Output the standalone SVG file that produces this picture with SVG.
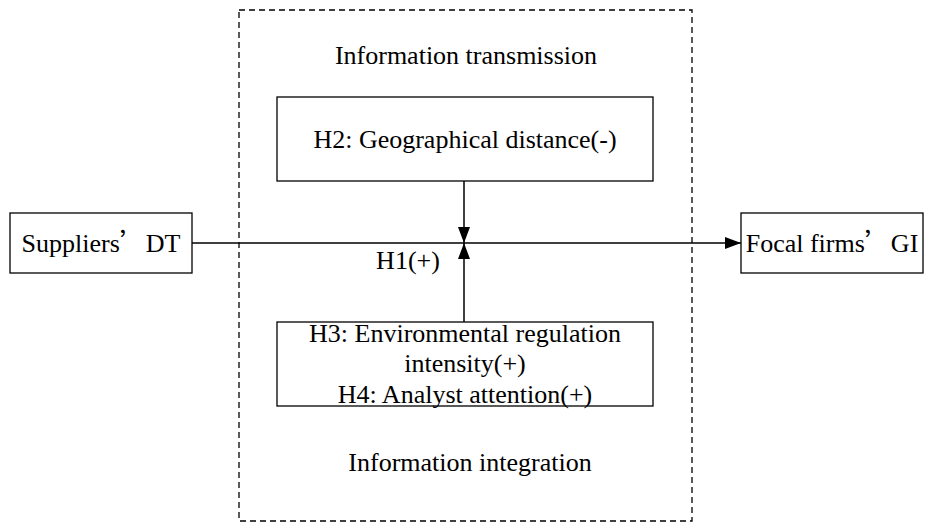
<svg xmlns="http://www.w3.org/2000/svg" width="936" height="531" viewBox="0 0 936 531">
<style>
text{font-family:"Liberation Serif",serif;font-size:26px;fill:#000;text-anchor:middle}
.cjk{font-family:"Noto Sans CJK SC",sans-serif}
.box{fill:#fff;stroke:#000;stroke-width:1.3}
.ln{stroke:#000;stroke-width:1.5;fill:none}
</style>
<defs><marker id="b" viewBox="0 0 16 12" refX="16" refY="6" markerWidth="16" markerHeight="12" markerUnits="userSpaceOnUse" orient="auto"><path d="M0,0 L16,6 L0,12z" fill="#000"/></marker></defs>
<rect x="239" y="10" width="453" height="511" fill="none" stroke="#000" stroke-width="1.3" stroke-dasharray="6,4"/>
<text x="466" y="64">Information transmission</text>
<text x="470" y="471">Information integration</text>
<g id="connectors">
<line class="ln" x1="192" y1="243" x2="741" y2="243" marker-end="url(#b)"/>
<line class="ln" x1="464" y1="181" x2="464" y2="243" marker-end="url(#b)"/>
<line class="ln" x1="464" y1="322" x2="464" y2="243" marker-end="url(#b)"/>
<text x="408" y="269">H1(+)</text>
</g>
<g id="suppliers"><rect class="box" x="10" y="213" width="182" height="60"/><text x="101" y="252">Suppliers<tspan class="cjk">’</tspan>DT</text></g>
<g id="focal"><rect class="box" x="741" y="213" width="182" height="60"/><text x="832" y="252">Focal firms<tspan class="cjk">’</tspan>GI</text></g>
<g id="h2"><rect class="box" x="277" y="97" width="376" height="84"/><text x="465" y="148">H2: Geographical distance(-)</text></g>
<g id="h3"><rect class="box" x="277" y="322" width="376" height="84"/><text x="465" y="342">H3: Environmental regulation</text><text x="465" y="372">intensity(+)</text><text x="465" y="403">H4: Analyst attention(+)</text></g>
</svg>
